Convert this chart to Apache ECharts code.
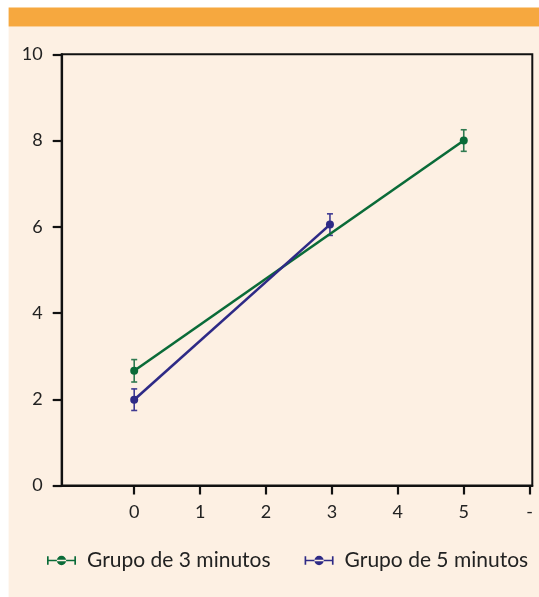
<!DOCTYPE html>
<html><head><meta charset="utf-8">
<script src="https://cdn.jsdelivr.net/npm/echarts@6/dist/echarts.min.js"></script>
<style>html,body{margin:0;padding:0;background:#fff}#c{width:539px;height:597px}</style>
</head><body><div id="c"></div>
<script>
const seriesNames = ['Grupo de 3 minutos', 'Grupo de 5 minutos'];
const group3X = [0, 5];
const group3Y = [2.66, 8.0];
const group3Err = [0.26, 0.25];
const group5X = [0, 2.97];
const group5Y = [1.99, 6.05];
const group5Err = [0.25, 0.25];
const xTickValues = [0, 1, 2, 3, 4, 5, 6];
const xTickLabels = ['0', '1', '2', '3', '4', '5', '-'];
const yTickLabels = ['0', '2', '4', '6', '8', '10'];

const colors = ['#0a6b38', '#2e2a86'];
const errColors = ['#2f7a50', '#3f3a92'];
const FONT = 'Lato';

function pts(xs, ys) { return xs.map((x, i) => [x, ys[i]]); }
function errData(xs, ys, es) { return xs.map((x, i) => [x, ys[i] - es[i], ys[i] + es[i]]); }

function errSeries(name, data, color) {
  return {
    type: 'custom', name: name, z: 1, silent: true,
    renderItem: function (params, api) {
      const x = api.value(0);
      const lo = api.coord([x, api.value(1)]);
      const hi = api.coord([x, api.value(2)]);
      const w = 3;
      const st = { stroke: color, lineWidth: 1.6, fill: null };
      return {
        type: 'group', children: [
          { type: 'line', shape: { x1: lo[0], y1: lo[1], x2: hi[0], y2: hi[1] }, style: st },
          { type: 'line', shape: { x1: lo[0] - w, y1: lo[1], x2: lo[0] + w, y2: lo[1] }, style: st },
          { type: 'line', shape: { x1: hi[0] - w, y1: hi[1], x2: hi[0] + w, y2: hi[1] }, style: st }
        ]
      };
    },
    encode: { x: 0, y: [1, 2] },
    data: data
  };
}

const icon = 'path://M0,4.2h28v1.6h-28z M0,1h1.6v8h-1.6z M26.4,1h1.6v8h-1.6z M9.5,5a4.5,4.5 0 1,0 9,0a4.5,4.5 0 1,0 -9,0z';

const chart = echarts.init(document.getElementById('c'));
chart.setOption({
  animation: false,
  backgroundColor: '#ffffff',
  graphic: [
    { type: 'rect', z: -10, shape: { x: 8.6, y: 26.5, width: 531, height: 571 }, style: { fill: '#fdf0e3' } },
    { type: 'rect', z: -10, shape: { x: 8.6, y: 7.6, width: 531, height: 19 }, style: { fill: '#f6a83f' } }
  ],
  grid: { left: 61.7, right: 6.7, top: 54.3, bottom: 111.5, show: true, borderColor: '#111', borderWidth: 2, backgroundColor: 'transparent' },
  legend: {
    left: 42, top: 545, itemWidth: 29, itemHeight: 10, itemGap: 34,
    textStyle: { fontFamily: FONT, fontSize: 21, color: '#222', padding: [0, 0, 0, 6] },
    data: [
      { name: seriesNames[0], icon: icon, itemStyle: { color: colors[0] } },
      { name: seriesNames[1], icon: icon, itemStyle: { color: colors[1] } }
    ]
  },
  xAxis: {
    type: 'value', min: -1.1, max: 6.04,
    splitLine: { show: false },
    axisLine: { show: true, onZero: false, lineStyle: { color: '#111', width: 2.2 } },
    axisTick: { show: true, customValues: xTickValues, length: 9, lineStyle: { color: '#111', width: 2.2 } },
    axisLabel: {
      customValues: xTickValues, margin: 18, fontFamily: FONT, fontSize: 18, color: '#222',
      formatter: function (v) { const i = xTickValues.indexOf(v); return i >= 0 ? xTickLabels[i] : ''; }
    }
  },
  yAxis: {
    type: 'value', min: 0, max: 10, interval: 2,
    splitLine: { show: false },
    axisLine: { show: true, onZero: false, lineStyle: { color: '#111', width: 2.2 } },
    axisTick: { show: true, length: 9, lineStyle: { color: '#111', width: 2.2 } },
    axisLabel: {
      margin: 19, fontFamily: FONT, fontSize: 18, color: '#222',
      formatter: function (v) { return yTickLabels[Math.round(v / 2)]; }
    }
  },
  series: [
    errSeries(seriesNames[0], errData(group3X, group3Y, group3Err), errColors[0]),
    errSeries(seriesNames[1], errData(group5X, group5Y, group5Err), errColors[1]),
    {
      type: 'line', name: seriesNames[0], z: 3, data: pts(group3X, group3Y),
      symbol: 'circle', symbolSize: 8, color: colors[0],
      lineStyle: { width: 2.6, color: colors[0] }, itemStyle: { color: colors[0] }
    },
    {
      type: 'line', name: seriesNames[1], z: 3, data: pts(group5X, group5Y),
      symbol: 'circle', symbolSize: 8, color: colors[1],
      lineStyle: { width: 2.6, color: colors[1] }, itemStyle: { color: colors[1] }
    }
  ]
});
</script></body></html>
